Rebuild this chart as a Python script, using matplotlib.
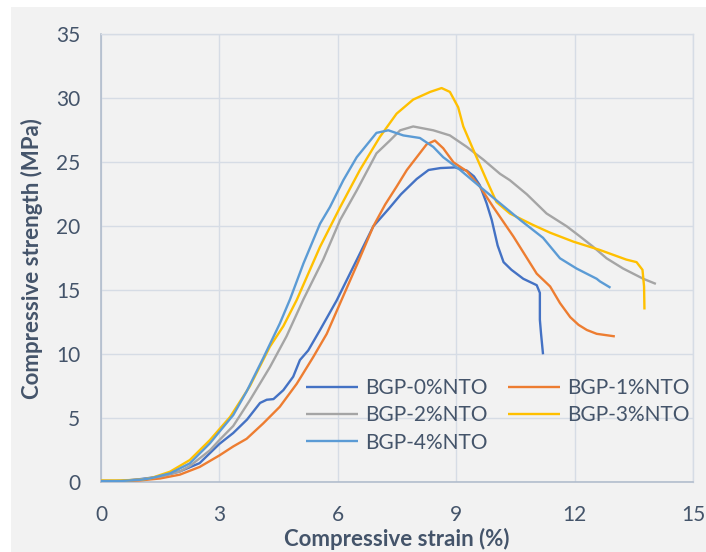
import matplotlib
matplotlib.use('Agg')
import matplotlib.pyplot as plt
from matplotlib.patches import Rectangle

plt.rcParams['font.family'] = ['Lato', 'DejaVu Sans']

# stress-strain curves
strain_0 = [0, 0.5, 1.0, 1.5, 2.0, 2.5, 3.0, 3.35, 3.7, 4.03, 4.2, 4.37, 4.62, 4.87, 5.04, 5.25,
            5.55, 5.97, 6.5, 6.9, 7.3, 7.6, 8.0, 8.3, 8.6, 8.97, 9.27, 9.45, 9.6, 9.77, 9.9, 10.05,
            10.2, 10.4, 10.7, 11.04, 11.12, 11.12, 11.15, 11.2]
stress_0 = [0.05, 0.1, 0.25, 0.45, 0.85, 1.5, 3.0, 3.85, 4.9, 6.2, 6.45, 6.5, 7.2, 8.25, 9.55, 10.3,
            11.9, 14.2, 17.5, 20.0, 21.4, 22.5, 23.7, 24.4, 24.55, 24.6, 24.35, 23.9, 23.2, 21.8, 20.5, 18.5,
            17.2, 16.6, 15.9, 15.4, 14.8, 12.7, 11.6, 10.0]

strain_1 = [0, 0.5, 1.0, 1.5, 2.0, 2.5, 3.0, 3.35, 3.69, 4.11, 4.53, 4.96, 5.38, 5.72, 6.06, 6.5,
            6.9, 7.2, 7.49, 7.75, 8.0, 8.25, 8.46, 8.67, 8.93, 9.27, 9.6, 9.94, 10.45, 11.04, 11.38,
            11.63, 11.89, 12.1, 12.31, 12.56, 13.02]
stress_1 = [0.05, 0.08, 0.15, 0.3, 0.6, 1.2, 2.1, 2.8, 3.4, 4.6, 5.9, 7.7, 9.8, 11.6, 14.0, 17.1,
            20.0, 21.7, 23.1, 24.4, 25.4, 26.4, 26.7, 26.1, 25.0, 24.3, 23.1, 21.5, 19.2, 16.3, 15.3,
            14.0, 12.9, 12.3, 11.9, 11.6, 11.4]

strain_2 = [0, 0.5, 1.0, 1.5, 2.0, 2.25, 2.76, 3.0, 3.35, 3.77, 4.28, 4.7, 5.13, 5.63, 6.06, 6.48,
            6.98, 7.32, 7.58, 7.91, 8.42, 8.84, 9.27, 9.69, 10.11, 10.36, 10.79, 11.29, 11.8, 12.14,
            12.47, 12.81, 13.23, 13.74, 14.06]
stress_2 = [0.05, 0.1, 0.22, 0.45, 0.85, 1.27, 2.5, 3.3, 4.4, 6.4, 9.0, 11.4, 14.3, 17.4, 20.5, 22.8,
            25.7, 26.7, 27.5, 27.8, 27.5, 27.1, 26.2, 25.2, 24.1, 23.6, 22.5, 21.0, 20.0, 19.2,
            18.4, 17.5, 16.7, 15.9, 15.5]

strain_3 = [0, 0.5, 1.0, 1.24, 1.75, 2.25, 2.76, 3.0, 3.27, 3.77, 4.28, 4.62, 4.96, 5.55, 6.06, 6.56,
            7.07, 7.49, 7.91, 8.34, 8.63, 8.84, 9.05, 9.18, 9.43, 9.77, 10.02, 10.36, 10.95, 11.38,
            11.97, 12.64, 13.31, 13.57, 13.72, 13.76, 13.77]
stress_3 = [0.15, 0.15, 0.2, 0.3, 0.83, 1.74, 3.3, 4.15, 5.1, 7.5, 10.6, 12.2, 14.25, 18.4, 21.5, 24.4,
            27.0, 28.8, 29.9, 30.5, 30.8, 30.5, 29.3, 27.8, 26.0, 23.6, 21.9, 21.0, 20.1, 19.5,
            18.8, 18.15, 17.4, 17.2, 16.6, 15.3, 13.5]

strain_4 = [0, 0.5, 1.0, 1.24, 1.75, 2.25, 2.76, 3.0, 3.35, 3.69, 4.11, 4.53, 4.79, 5.13, 5.55, 5.8,
            6.14, 6.48, 6.98, 7.28, 7.66, 8.08, 8.42, 8.67, 9.1, 9.6, 10.11, 10.62, 11.2, 11.63,
            12.05, 12.56, 12.64, 12.91]
stress_4 = [0.1, 0.1, 0.2, 0.3, 0.7, 1.48, 3.05, 3.95, 5.25, 7.1, 9.7, 12.4, 14.3, 17.1, 20.2, 21.5,
            23.6, 25.4, 27.3, 27.5, 27.1, 26.9, 26.2, 25.4, 24.4, 23.1, 21.8, 20.5, 19.1, 17.5,
            16.7, 15.9, 15.7, 15.2]

labels = ['BGP-0%NTO', 'BGP-1%NTO', 'BGP-2%NTO', 'BGP-3%NTO', 'BGP-4%NTO']
colors = ['#4472C4', '#ED7D31', '#A5A5A5', '#FFC000', '#5B9BD5']

x_ticks = [0, 3, 6, 9, 12, 15]
y_ticks = [0, 5, 10, 15, 20, 25, 30, 35]

TEXT = '#44546A'
GRID = '#D6DCE5'
AXIS = '#ADB9CA'
BG = '#F2F2F2'

fig = plt.figure(figsize=(7.06, 5.52), dpi=100, facecolor='white')
fig.add_artist(Rectangle((11 / 706, 0), 1 - 11 / 706, 545 / 552, transform=fig.transFigure,
                         facecolor=BG, edgecolor='none', zorder=-10))
ax = fig.add_axes([101 / 706, (552 - 482.3) / 552, 592 / 706, 448 / 552])
ax.set_facecolor(BG)

series = [(strain_0, stress_0), (strain_1, stress_1), (strain_2, stress_2),
          (strain_3, stress_3), (strain_4, stress_4)]
handles = []
for (sx, sy), lab, c in zip(series, labels, colors):
    line, = ax.plot(sx, sy, color=c, lw=1.7, label=lab, solid_capstyle='butt', zorder=3)
    handles.append(line)

ax.set_xlim(0, 15)
ax.set_ylim(0, 35)
ax.set_xticks(x_ticks)
ax.set_yticks(y_ticks)
ax.grid(True, color=GRID, lw=1.0, zorder=0)
ax.set_axisbelow(True)
ax.tick_params(length=0, labelsize=15, labelcolor=TEXT)
ax.tick_params(axis='x', pad=16)
ax.tick_params(axis='y', pad=15)
for s in ['top', 'right']:
    ax.spines[s].set_color(GRID)
    ax.spines[s].set_linewidth(1.0)
for s in ['left', 'bottom']:
    ax.spines[s].set_color(AXIS)
    ax.spines[s].set_linewidth(1.1)

ax.set_xlabel('Compressive strain (%)', fontsize=16, fontweight='bold', color=TEXT, va='center')
ax.xaxis.set_label_coords(0.5, (482.3 - 539) / 448)
ax.set_ylabel('Compressive strength (MPa)', fontsize=16, fontweight='bold', color=TEXT, va='center')
ax.yaxis.set_label_coords((32 - 101) / 592, 0.5)

# matplotlib fills legend columns first; reorder so rows read 0/1, 2/3, 4
order = [0, 2, 4, 1, 3]
leg = ax.legend([handles[i] for i in order], [labels[i] for i in order], ncol=2,
                loc='upper left', bbox_to_anchor=(306 / 706, (552 - 378) / 552),
                bbox_transform=fig.transFigure, frameon=False, fontsize=15,
                handlelength=2.5, handletextpad=0.33, columnspacing=1.0,
                labelspacing=0.35, borderpad=0, borderaxespad=0)
for t in leg.get_texts():
    t.set_color(TEXT)

fig.savefig('out.png', dpi=100, facecolor=fig.get_facecolor())
